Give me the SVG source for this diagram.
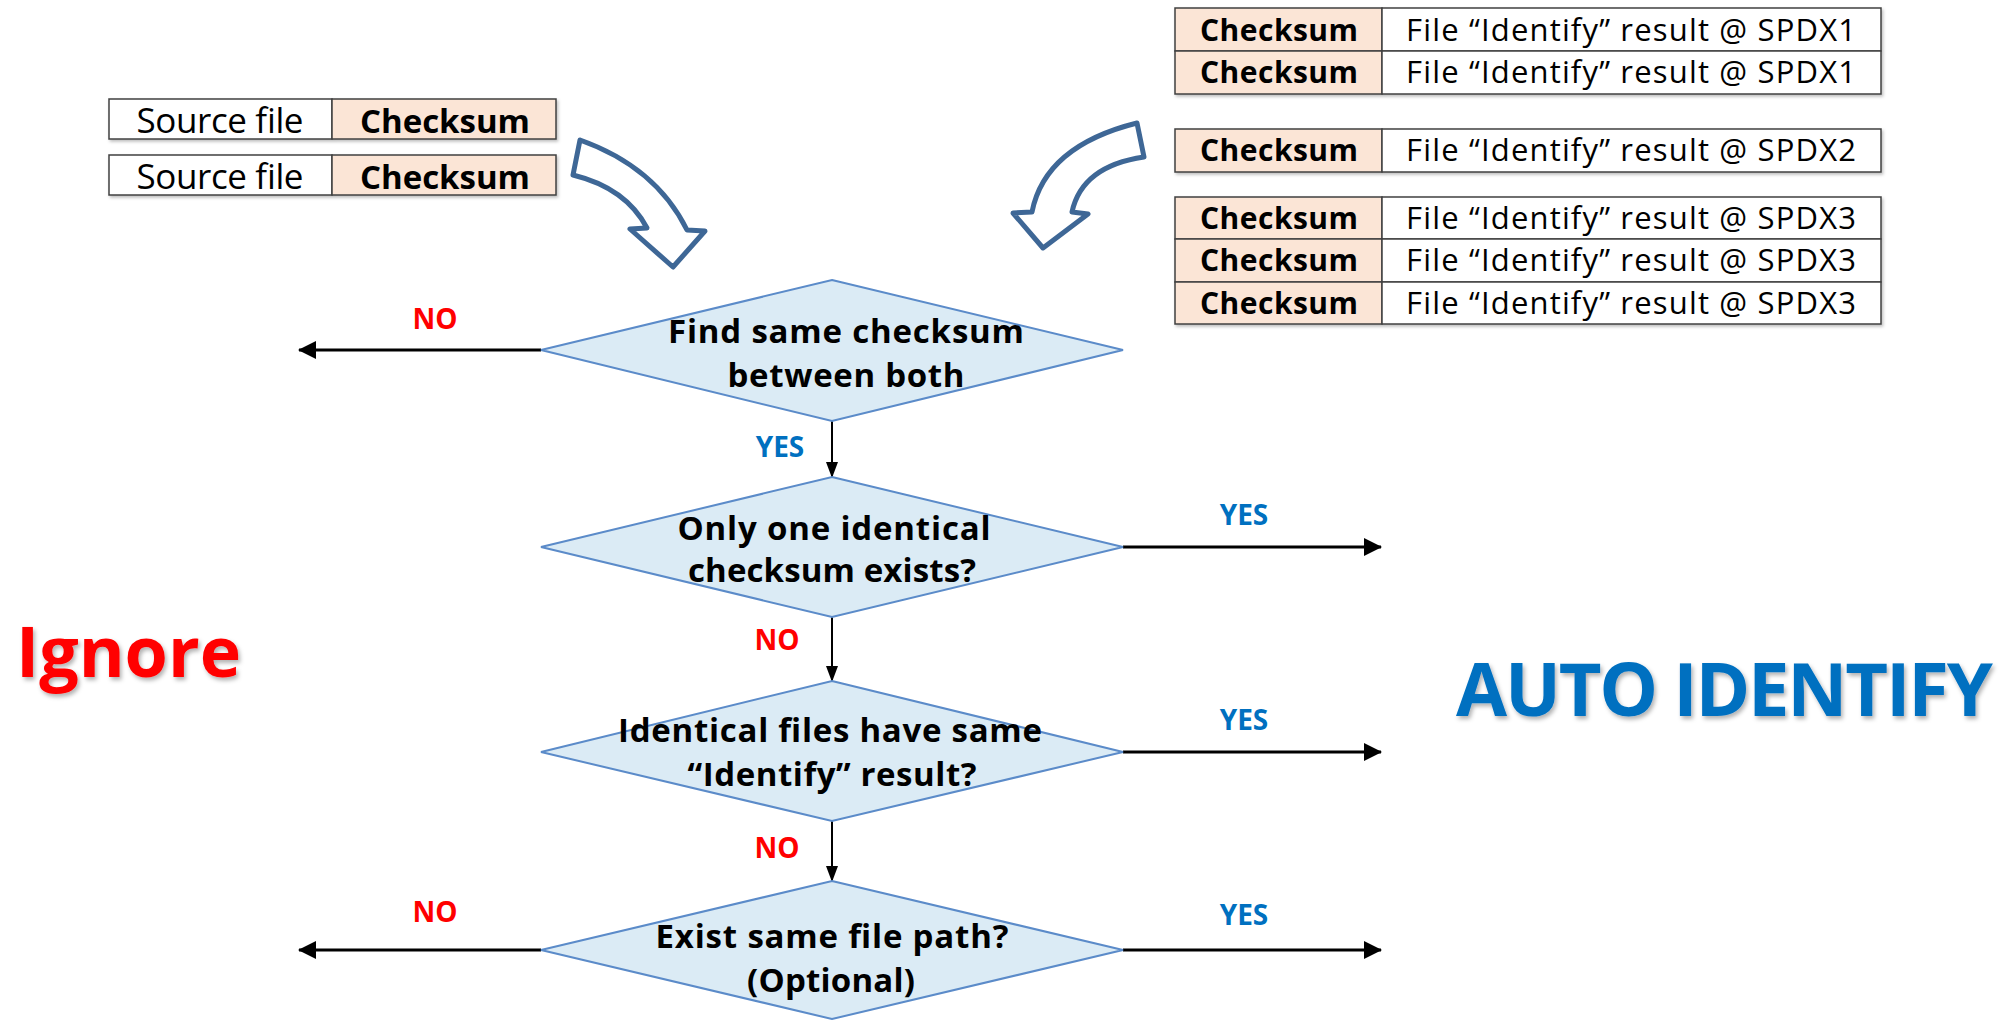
<svg xmlns="http://www.w3.org/2000/svg" width="2014" height="1020" viewBox="0 0 2014 1020">
<defs>
<filter id="sh" x="-5%" y="-20%" width="110%" height="140%"><feDropShadow dx="1.5" dy="2" stdDeviation="1.5" flood-color="#000" flood-opacity="0.25"/></filter>
<filter id="tsh" x="-5%" y="-20%" width="110%" height="140%"><feDropShadow dx="2" dy="3" stdDeviation="2" flood-color="#000" flood-opacity="0.3"/></filter>
<marker id="ah" markerUnits="userSpaceOnUse" markerWidth="18" markerHeight="20" viewBox="0 0 18 20" refX="17" refY="10" orient="auto"><path d="M0,1 L18,10 L0,19 Z" fill="#000"/></marker>
<marker id="av" markerUnits="userSpaceOnUse" markerWidth="16" markerHeight="14" viewBox="0 0 16 14" refX="15" refY="7" orient="auto"><path d="M0,1 L16,7 L0,13 Z" fill="#000"/></marker>
</defs>
<style>
.cell{fill:#fff;stroke:#404040;stroke-width:1.5}
.ck{fill:#fbe5d6;stroke:#404040;stroke-width:1.5}
.t{font-family:"Open Sans","Liberation Sans",sans-serif;fill:#000}
.b{font-weight:bold}
.dia{fill:#dbebf5;stroke:#5b8bc9;stroke-width:2}
.dt{font-family:"Open Sans","Liberation Sans",sans-serif;font-weight:bold;font-size:33px;fill:#000;text-anchor:middle}
.no{font-family:"Open Sans","Liberation Sans",sans-serif;font-weight:bold;font-size:28px;fill:#ff0000;text-anchor:middle}
.yes{font-family:"Open Sans","Liberation Sans",sans-serif;font-weight:bold;font-size:28px;fill:#0070c0;text-anchor:middle}
.blk{fill:#fff;stroke:#3e6796;stroke-width:5;stroke-linejoin:round}
.ln{stroke:#000;fill:none}
</style>

<g id="source-table" filter="url(#sh)">
<rect class="cell" x="109" y="99" width="223" height="40"/>
<rect class="ck" x="332" y="99" width="224" height="40"/>
<rect class="cell" x="109" y="155" width="223" height="40"/>
<rect class="ck" x="332" y="155" width="224" height="40"/>
</g>
<g id="source-text">
<text class="t" x="220" y="133" font-size="35" text-anchor="middle" textLength="167">Source file</text>
<text class="t b" x="445" y="133" font-size="33" text-anchor="middle" textLength="170">Checksum</text>
<text class="t" x="220" y="189" font-size="35" text-anchor="middle" textLength="167">Source file</text>
<text class="t b" x="445" y="189" font-size="33" text-anchor="middle" textLength="170">Checksum</text>
</g>

<g id="spdx-tables" filter="url(#sh)">
<rect class="ck" x="1175" y="8" width="207" height="43"/><rect class="cell" x="1382" y="8" width="499" height="43"/>
<rect class="ck" x="1175" y="51" width="207" height="43"/><rect class="cell" x="1382" y="51" width="499" height="43"/>
<rect class="ck" x="1175" y="129" width="207" height="43"/><rect class="cell" x="1382" y="129" width="499" height="43"/>
<rect class="ck" x="1175" y="197" width="207" height="42"/><rect class="cell" x="1382" y="197" width="499" height="42"/>
<rect class="ck" x="1175" y="239" width="207" height="43"/><rect class="cell" x="1382" y="239" width="499" height="43"/>
<rect class="ck" x="1175" y="282" width="207" height="42"/><rect class="cell" x="1382" y="282" width="499" height="42"/>
</g>
<g id="spdx-text">
<text class="t b" x="1279" y="41" font-size="30" text-anchor="middle" textLength="158">Checksum</text>
<text class="t" x="1631" y="41" font-size="31" text-anchor="middle" textLength="450">File “Identify” result @ SPDX1</text>
<text class="t b" x="1279" y="83" font-size="30" text-anchor="middle" textLength="158">Checksum</text>
<text class="t" x="1631" y="83" font-size="31" text-anchor="middle" textLength="450">File “Identify” result @ SPDX1</text>
<text class="t b" x="1279" y="161" font-size="30" text-anchor="middle" textLength="158">Checksum</text>
<text class="t" x="1631" y="161" font-size="31" text-anchor="middle" textLength="450">File “Identify” result @ SPDX2</text>
<text class="t b" x="1279" y="229" font-size="30" text-anchor="middle" textLength="158">Checksum</text>
<text class="t" x="1631" y="229" font-size="31" text-anchor="middle" textLength="450">File “Identify” result @ SPDX3</text>
<text class="t b" x="1279" y="271" font-size="30" text-anchor="middle" textLength="158">Checksum</text>
<text class="t" x="1631" y="271" font-size="31" text-anchor="middle" textLength="450">File “Identify” result @ SPDX3</text>
<text class="t b" x="1279" y="314" font-size="30" text-anchor="middle" textLength="158">Checksum</text>
<text class="t" x="1631" y="314" font-size="31" text-anchor="middle" textLength="450">File “Identify” result @ SPDX3</text>
</g>

<g id="curved-arrow-left">
<path class="blk" d="M580,140 Q656,167 687,230 L705,231 L673,267 L630,229 L647,228 Q626,188 573,175 Z"/>
</g>
<g id="curved-arrow-right">
<path class="blk" d="M1137,123 Q1045,146 1032,212 L1013,213 L1043,248 L1088,214 L1072,212 Q1082,166 1144,157 Z"/>
</g>

<g id="connectors">
<line class="ln" x1="541" y1="350" x2="299" y2="350" stroke-width="3" marker-end="url(#ah)"/>
<line class="ln" x1="541" y1="950" x2="299" y2="950" stroke-width="3" marker-end="url(#ah)"/>
<line class="ln" x1="1123" y1="547" x2="1381" y2="547" stroke-width="3" marker-end="url(#ah)"/>
<line class="ln" x1="1123" y1="752" x2="1381" y2="752" stroke-width="3" marker-end="url(#ah)"/>
<line class="ln" x1="1123" y1="950" x2="1381" y2="950" stroke-width="3" marker-end="url(#ah)"/>
<line class="ln" x1="832" y1="421" x2="832" y2="477" stroke-width="2" marker-end="url(#av)"/>
<line class="ln" x1="832" y1="617" x2="832" y2="681" stroke-width="2" marker-end="url(#av)"/>
<line class="ln" x1="832" y1="821" x2="832" y2="881" stroke-width="2" marker-end="url(#av)"/>
</g>

<g id="d1">
<polygon class="dia" points="832,280 1123,350 832,421 541,350"/>
<text class="dt" x="846" y="343" textLength="356">Find same checksum</text>
<text class="dt" x="846" y="387" textLength="237">between both</text>
</g>
<g id="d2">
<polygon class="dia" points="832,477 1123,547 832,617 541,547"/>
<text class="dt" x="834" y="540" textLength="313">Only one identical</text>
<text class="dt" x="832" y="582" textLength="288">checksum exists?</text>
</g>
<g id="d3">
<polygon class="dia" points="832,681 1123,752 832,821 541,752"/>
<text class="dt" x="830" y="742" textLength="424">Identical files have same</text>
<text class="dt" x="832" y="786" textLength="289">“Identify” result?</text>
</g>
<g id="d4">
<polygon class="dia" points="832,881 1123,950 832,1019 541,950"/>
<text class="dt" x="832" y="948" textLength="353">Exist same file path?</text>
<text class="dt" x="831" y="992" textLength="168">(Optional)</text>
</g>

<g id="labels">
<text class="no" x="435" y="329">NO</text>
<text class="yes" x="780" y="457">YES</text>
<text class="yes" x="1244" y="525">YES</text>
<text class="no" x="777" y="650">NO</text>
<text class="yes" x="1244" y="730">YES</text>
<text class="no" x="777" y="858">NO</text>
<text class="no" x="435" y="922">NO</text>
<text class="yes" x="1244" y="925">YES</text>
</g>

<g id="ignore" filter="url(#tsh)">
<text x="16" y="677" font-family="Open Sans, Liberation Sans, sans-serif" font-weight="bold" font-size="70" fill="#ff0000" textLength="225">Ignore</text>
</g>
<g id="auto-identify" filter="url(#tsh)">
<text x="1456" y="716" font-family="Open Sans, Liberation Sans, sans-serif" font-weight="bold" font-size="74" fill="#0070c0" textLength="537">AUTO IDENTIFY</text>
</g>
</svg>
